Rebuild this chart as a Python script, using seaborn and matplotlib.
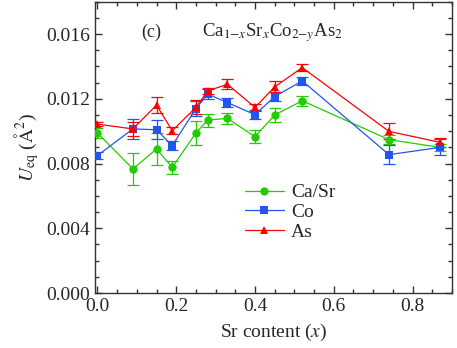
import numpy as np
import pandas as pd
import matplotlib
matplotlib.use("Agg")
import matplotlib.pyplot as plt
from matplotlib.ticker import MultipleLocator, FormatStrFormatter
import seaborn as sns

# Sr content
sr_x = [0.0, 0.09, 0.15, 0.19, 0.25, 0.28, 0.33, 0.40, 0.45, 0.52, 0.74, 0.87]

# U_eq values (A^2) and errors
ca_sr = [0.00989, 0.00767, 0.00890, 0.00777, 0.00989, 0.01069, 0.01079, 0.00966, 0.01100, 0.01188, 0.00948, 0.00900]
ca_sr_err = [0.0003, 0.0010, 0.0010, 0.0004, 0.00077, 0.0004, 0.00036, 0.0004, 0.00046, 0.0003, 0.00026, 0.0002]
co = [0.00849, 0.01014, 0.01009, 0.00911, 0.01140, 0.01229, 0.01177, 0.01102, 0.01214, 0.01311, 0.00855, 0.00900]
co_err = [0.0002, 0.0006, 0.0006, 0.0003, 0.00046, 0.0003, 0.0003, 0.00026, 0.0003, 0.00023, 0.0006, 0.0005]
as_ = [0.01044, 0.01014, 0.01161, 0.01003, 0.01147, 0.01249, 0.01290, 0.01147, 0.01274, 0.01393, 0.00999, 0.00931]
as_err = [0.00012, 0.00043, 0.0005, 0.00023, 0.00043, 0.0002, 0.0003, 0.0002, 0.00034, 0.00023, 0.0005, 0.0003]

series = ["Ca/Sr", "Co", "As"]
df = pd.concat([
    pd.DataFrame({"x": sr_x, "U": ca_sr, "err": ca_sr_err, "site": "Ca/Sr"}),
    pd.DataFrame({"x": sr_x, "U": co, "err": co_err, "site": "Co"}),
    pd.DataFrame({"x": sr_x, "U": as_, "err": as_err, "site": "As"}),
])

colors = {"Ca/Sr": "#22cc00", "Co": "#2255ee", "As": "#ff0000"}
markers = {"Ca/Sr": "o", "Co": "s", "As": "^"}

sns.set_style("ticks")
plt.rcParams["font.family"] = ["Liberation Serif", "DejaVu Serif"]
plt.rcParams["mathtext.fontset"] = "stix"

fig, ax = plt.subplots(figsize=(4.57, 3.48), dpi=100)
fig.subplots_adjust(left=0.208, right=0.989, bottom=0.158, top=0.995)

# error bars first, then lines + markers on top
for s in series:
    d = df[df["site"] == s]
    ax.errorbar(d["x"], d["U"], yerr=d["err"], fmt="none", ecolor=colors[s],
                elinewidth=0.9, capsize=4, capthick=0.9, zorder=2)

sns.lineplot(data=df, x="x", y="U", hue="site", style="site", palette=colors,
             markers=markers, dashes=False, markersize=6, markeredgewidth=0,
             linewidth=0.9, ax=ax, zorder=3)

ax.set_xlim(-0.006, 0.9)
ax.set_ylim(0, 0.018)
ax.xaxis.set_major_locator(MultipleLocator(0.2))
ax.xaxis.set_minor_locator(MultipleLocator(0.05))
ax.yaxis.set_major_locator(MultipleLocator(0.004))
ax.yaxis.set_minor_locator(MultipleLocator(0.001))
ax.xaxis.set_major_formatter(FormatStrFormatter("%.1f"))
ax.yaxis.set_major_formatter(FormatStrFormatter("%.3f"))
ax.tick_params(which="both", direction="in", top=True, right=True, labelsize=14,
               width=1, color="#333333")
ax.tick_params(which="major", length=5)
ax.tick_params(which="minor", length=3)
for sp in ax.spines.values():
    sp.set_linewidth(1)
    sp.set_color("#333333")

ax.set_xlabel(r"Sr content ($x$)", fontsize=14, labelpad=5)
ax.set_ylabel(r"$U_{\mathrm{eq}}$ ($\mathrm{\AA}^2$)", fontsize=14, labelpad=4)

ax.text(0.13, 0.88, "(c)", transform=ax.transAxes, fontsize=13)
ax.text(0.30, 0.88, r"Ca$_{1\mathrm{-}x}$Sr$_x$Co$_{2\mathrm{-}y}$As$_2$",
        transform=ax.transAxes, fontsize=13.5)

ax.legend(title=None, frameon=False, loc="upper left", bbox_to_anchor=(0.37, 0.435),
          fontsize=14, handlelength=2.0, labelspacing=0.1, handletextpad=0.4)

fig.savefig("out.png", dpi=100)
